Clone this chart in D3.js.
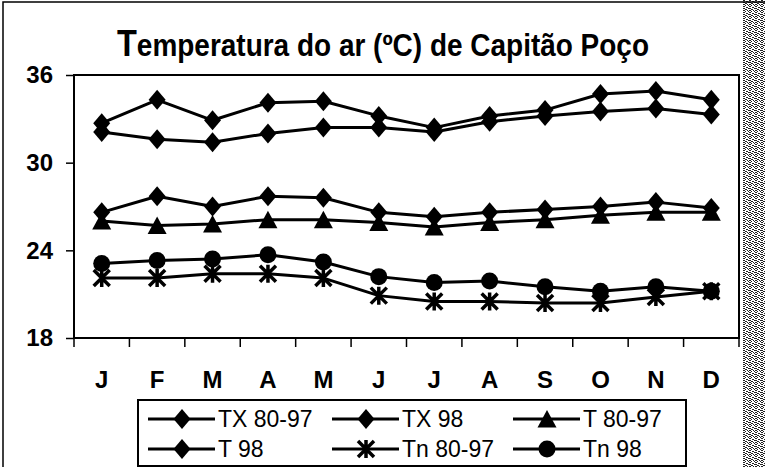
<!DOCTYPE html>
<html>
<head>
<meta charset="utf-8">
<script src="https://cdn.jsdelivr.net/npm/d3@7"></script>
<style>
	body { margin: 0; background: #fff; }
	svg { display: block; font-family: "Liberation Sans", Arial, sans-serif; }
</style>
</head>
<body>
<div id="chart"></div>
<script>
// monthly air temperature, Capitão Poço
const months = ["J", "F", "M", "A", "M", "J", "J", "A", "S", "O", "N", "D"]
const yTicks = [18, 24, 30, 36]

const tx8097 = [32.1, 31.6, 31.4, 32.0, 32.4, 32.4, 32.1, 32.8, 33.2, 33.5, 33.7, 33.3]
const tx98   = [32.7, 34.3, 32.9, 34.1, 34.2, 33.2, 32.4, 33.2, 33.6, 34.7, 34.9, 34.3]
const t8097  = [26.0, 25.7, 25.8, 26.1, 26.1, 25.9, 25.6, 25.9, 26.1, 26.4, 26.6, 26.6]
const t98    = [26.6, 27.7, 27.0, 27.7, 27.6, 26.6, 26.3, 26.6, 26.8, 27.0, 27.3, 26.9]
const tn8097 = [22.1, 22.1, 22.4, 22.4, 22.1, 20.9, 20.5, 20.5, 20.4, 20.4, 20.8, 21.2]
const tn98   = [23.1, 23.3, 23.4, 23.7, 23.2, 22.2, 21.8, 21.9, 21.5, 21.2, 21.5, 21.2]

const seriesNames = ["TX 80-97", "TX 98", "T 80-97", "T 98", "Tn 80-97", "Tn 98"]
const seriesMarks = ["diamond", "diamond", "triangle", "diamond", "star", "circle"]
const seriesValues = [tx8097, tx98, t8097, t98, tn8097, tn98]

const series = seriesNames.map((name, i) => ({
	name: name,
	mark: seriesMarks[i],
	values: seriesValues[i]
}))

const width = 765
const height = 467
const margin = ({top: 75, right: 26, bottom: 129, left: 74})

const svg = d3.select("#chart")
	.append("svg")
		.attr("width", width)
		.attr("height", height)

// scanned-paper look: speckled strip on the right and the page frame
const defs = svg.append("defs")
const pat = defs.append("pattern")
	.attr("id", "speckle")
	.attr("width", 6)
	.attr("height", 6)
	.attr("patternUnits", "userSpaceOnUse")
pat.append("rect").attr("width", 6).attr("height", 6).attr("fill", "#fff")
const dots = [[0, 0], [2, 1], [4, 2], [1, 3], [3, 4], [0, 2], [3, 1], [5, 0], [5, 4], [1, 5], [4, 5], [2, 3], [0, 4], [5, 2]]
pat.selectAll("rect.d")
	.data(dots)
	.join("rect")
		.attr("class", "d")
		.attr("x", d => d[0])
		.attr("y", d => d[1])
		.attr("width", 1)
		.attr("height", 1)
		.attr("fill", "#222")

svg.append("rect")
	.attr("x", 743)
	.attr("y", 0)
	.attr("width", 22)
	.attr("height", height)
	.attr("fill", "url(#speckle)")

svg.append("path")
	.attr("d", `M3,${height}V2H${width}`)
	.attr("fill", "none")
	.attr("stroke", "#000")
	.attr("stroke-width", 1.5)

// title, with the larger first letter
const title = svg.append("text")
	.attr("x", 117)
	.attr("y", 56)
	.attr("font-weight", "bold")
	.attr("font-size", 31)
	.attr("textLength", 532)
	.attr("lengthAdjust", "spacingAndGlyphs")
title.append("tspan").attr("font-size", 36).text("T")
title.append("tspan").text("emperatura do ar (ºC) de Capitão Poço")

const x = d3.scaleBand()
	.domain(d3.range(months.length))
	.range([margin.left, width - margin.right])

const y = d3.scaleLinear()
	.domain([18, 36])
	.range([height - margin.bottom, margin.top])

// plot frame
svg.append("rect")
	.attr("x", margin.left)
	.attr("y", margin.top)
	.attr("width", width - margin.right - margin.left)
	.attr("height", height - margin.bottom - margin.top)
	.attr("fill", "#fff")
	.attr("stroke", "#000")
	.attr("stroke-width", 2)

const yAxis = g => g
	.attr("transform", `translate(${margin.left},0)`)
	.call(d3.axisLeft(y).tickValues(yTicks).tickSize(8).tickPadding(13).tickFormat(d3.format("d")))
	.call(g => g.select(".domain").remove())
	.call(g => g.selectAll(".tick line").attr("stroke-width", 1.5))
	.call(g => g.selectAll(".tick text")
		.attr("font-family", "Liberation Sans, Arial, sans-serif")
		.attr("font-size", 24)
		.attr("font-weight", "bold")
		.attr("fill", "#000"))

const xAxis = g => g
	.attr("transform", `translate(0,${height - margin.bottom})`)
	.call(d3.axisBottom(x).tickSize(0).tickPadding(33).tickFormat(i => months[i]))
	.call(g => g.select(".domain").remove())
	.call(g => g.selectAll(".tick text")
		.attr("font-family", "Liberation Sans, Arial, sans-serif")
		.attr("font-size", 24)
		.attr("font-weight", "bold")
		.attr("fill", "#000"))

svg.append("g").call(yAxis)
svg.append("g").call(xAxis)

// category boundary ticks under the axis
svg.append("g")
	.selectAll("line")
	.data(d3.range(months.length + 1))
	.join("line")
		.attr("x1", i => margin.left + i * x.step())
		.attr("x2", i => margin.left + i * x.step())
		.attr("y1", height - margin.bottom)
		.attr("y2", height - margin.bottom + 9)
		.attr("stroke", "#000")
		.attr("stroke-width", 1.5)

function marker(sel, mark) {
	if (mark == "circle") {
		sel.append("circle").attr("r", 8.5).attr("fill", "#000")
	} else if (mark == "diamond") {
		sel.append("path").attr("d", "M0,-10L8.5,0L0,10L-8.5,0Z").attr("fill", "#000")
	} else if (mark == "triangle") {
		sel.append("path").attr("d", "M0,-9L9.5,8.5L-9.5,8.5Z").attr("fill", "#000")
	} else if (mark == "star") {
		sel.append("path")
			.attr("d", "M0,-9V9M-8,-8L8,8M-8,8L8,-8")
			.attr("stroke", "#000")
			.attr("stroke-width", 3.5)
			.attr("fill", "none")
	}
}

const line = d3.line()
	.x((d, i) => x(i) + x.bandwidth() / 2)
	.y(d => y(d))

const plot = svg.append("g")
series.forEach(s => {
	plot.append("path")
		.attr("d", line(s.values))
		.attr("fill", "none")
		.attr("stroke", "#000")
		.attr("stroke-width", 3)
		.attr("stroke-linejoin", "round")
	plot.append("g")
		.selectAll("g")
		.data(s.values)
		.join("g")
			.attr("transform", (d, i) => `translate(${x(i) + x.bandwidth() / 2},${y(d)})`)
			.each(function () { marker(d3.select(this), s.mark) })
})

// legend box, three columns by two rows
const legendX = 138
const legendY = 400
const colX = [148, 332, 513]
const rowY = [419, 449]

svg.append("rect")
	.attr("x", legendX)
	.attr("y", legendY)
	.attr("width", 548)
	.attr("height", 66)
	.attr("fill", "#fff")
	.attr("stroke", "#000")
	.attr("stroke-width", 2)

const item = svg.append("g")
	.selectAll("g")
	.data(series)
	.join("g")
		.attr("transform", (d, i) => `translate(${colX[i % 3]},${rowY[Math.floor(i / 3)]})`)

item.append("line")
	.attr("x1", 0)
	.attr("x2", 67)
	.attr("stroke", "#000")
	.attr("stroke-width", 3)

item.append("g")
	.attr("transform", "translate(34,0)")
	.each(function (d) { marker(d3.select(this), d.mark) })

item.append("text")
	.attr("x", 70)
	.attr("dy", "0.36em")
	.attr("font-size", 23)
	.text(d => d.name)
</script>
</body>
</html>
